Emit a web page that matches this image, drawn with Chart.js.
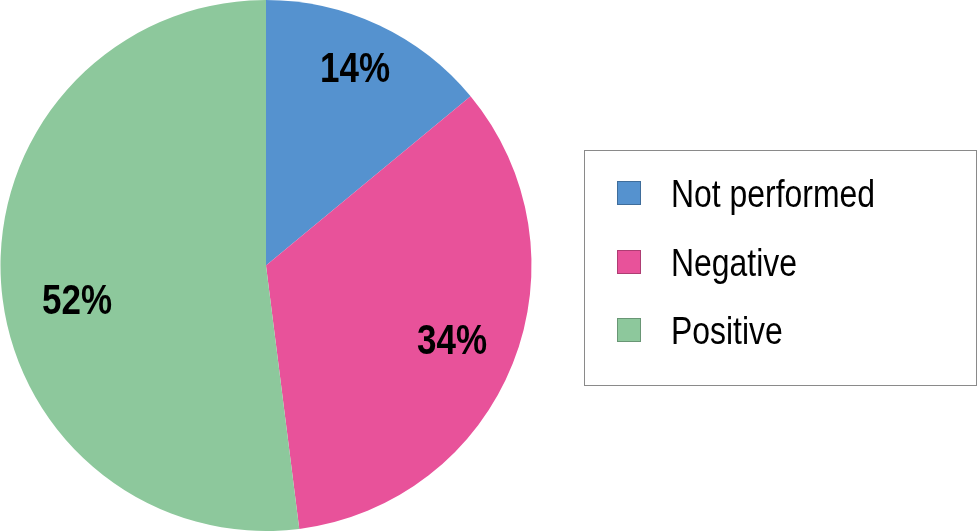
<!DOCTYPE html>
<html>
<head>
<meta charset="utf-8">
<script src="https://cdn.jsdelivr.net/npm/chart.js@4"></script>
<style>
  html, body { margin: 0; padding: 0; background: #fff; }
  #wrap { width: 978px; height: 531px; position: relative; }
</style>
</head>
<body>
<div id="wrap"><canvas id="pieChart" width="978" height="531"></canvas></div>
<script>
var categories = ['Not performed', 'Negative', 'Positive'];
var values = [14, 34, 52];
var colors = ['#5592cf', '#e8529a', '#8dc89c'];
var labelSpots = [[355, 68], [452, 340], [77, 300]];

var FONT = '"Liberation Sans", Arial, sans-serif';

// draw text squeezed horizontally to look like a condensed face
function narrowText(ctx, text, x, y, sx) {
    ctx.save();
    ctx.translate(x, y);
    ctx.scale(sx, 1);
    ctx.fillText(text, 0, 0);
    ctx.restore();
}

// percent labels inside slices
var sliceLabels = {
    id: 'sliceLabels',
    afterDatasetsDraw: function (chart) {
        var ctx = chart.ctx;
        var meta = chart.getDatasetMeta(0);
        var total = values.reduce(function (a, b) { return a + b; }, 0);
        ctx.save();
        ctx.font = 'bold 42px ' + FONT;
        ctx.fillStyle = '#000';
        ctx.textAlign = 'center';
        ctx.textBaseline = 'middle';
        var sx = 70 / ctx.measureText('14%').width;
        meta.data.forEach(function (arc, i) {
            var pos = arc.tooltipPosition();
            var p = labelSpots[i] || [pos.x, pos.y];
            narrowText(ctx, Math.round(values[i] / total * 100) + '%', p[0], p[1] + 2, sx);
        });
        ctx.restore();
    }
};

// boxed legend on the right
var boxLegend = {
    id: 'boxLegend',
    afterDraw: function (chart) {
        var ctx = chart.ctx;
        ctx.save();
        ctx.strokeStyle = '#8a8a8a';
        ctx.lineWidth = 1;
        ctx.strokeRect(584.5, 150.5, 392, 235);
        var rowsY = [193, 262, 330];
        ctx.font = '39px ' + FONT;
        ctx.textBaseline = 'middle';
        ctx.textAlign = 'left';
        var sx = 204 / ctx.measureText(categories[0]).width;
        categories.forEach(function (name, i) {
            ctx.fillStyle = colors[i];
            ctx.fillRect(617, rowsY[i] - 12, 24, 24);
            ctx.strokeStyle = 'rgba(0,0,0,0.25)';
            ctx.strokeRect(617.5, rowsY[i] - 11.5, 23, 23);
            ctx.fillStyle = '#000';
            narrowText(ctx, name, 671, rowsY[i] + 3, sx);
        });
        ctx.restore();
    }
};

new Chart(document.getElementById('pieChart'), {
    type: 'pie',
    data: {
        labels: categories,
        datasets: [{
            data: values,
            backgroundColor: colors,
            borderWidth: 0
        }]
    },
    options: {
        responsive: false,
        animation: false,
        layout: { padding: { left: 0, top: 0, bottom: 0, right: 446 } },
        plugins: {
            legend: { display: false },
            tooltip: { enabled: false }
        }
    },
    plugins: [sliceLabels, boxLegend]
});
</script>
</body>
</html>
